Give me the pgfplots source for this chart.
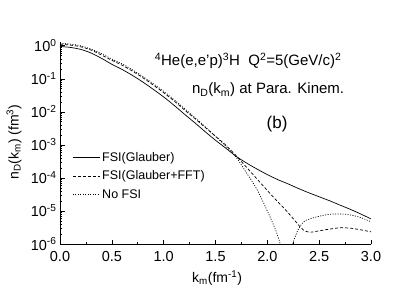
\documentclass[border=0pt]{standalone}
\usepackage{fontspec}
\setmainfont{Liberation Sans}
\usepackage{pgfplots}
\pgfplotsset{compat=1.18}
\begin{document}
\begin{tikzpicture}
\useasboundingbox (-60pt,-45pt) rectangle (349pt,244pt);
\begin{axis}[
  scale only axis, width=311pt, height=202pt,
  ymode=log, xmin=0, xmax=3, ymin=1e-6, ymax=1.3,
  axis lines=left, axis line style={-, line width=0.7pt},
  tick align=inside, major tick length=4.5pt, minor tick length=2.5pt,
  every tick/.style={line width=0.6pt, black},
  xtick={0,0.5,...,3}, minor x tick num=1,
  ytick={1e-6,1e-5,1e-4,1e-3,1e-2,1e-1,1},
  yticklabels={10\textsuperscript{-6},10\textsuperscript{-5},10\textsuperscript{-4},10\textsuperscript{-3},10\textsuperscript{-2},10\textsuperscript{-1},10\textsuperscript{0}},
  /pgf/number format/assume math mode=true,
  x tick label style={/pgf/number format/fixed, /pgf/number format/fixed zerofill, /pgf/number format/precision=1, yshift=-4pt},
  tick label style={font=\fontsize{14.5}{16}\selectfont},
  xlabel={k\textsubscript{m}(fm\textsuperscript{-1})},
  ylabel={n\textsubscript{D}(k\textsubscript{m}) (fm\textsuperscript{3})},
  label style={font=\fontsize{14}{16}\selectfont},
  xlabel style={at={(axis description cs:0.505,-0.168)}, anchor=center},
  ylabel style={at={(axis description cs:-0.148,0.505)}, anchor=center, rotate=0},
  legend style={draw=none, fill=none, font=\fontsize{12.5}{14}\selectfont,
    at={(axis description cs:0.03,0.475)}, anchor=north west, cells={anchor=west}, row sep=4pt},
  legend image code/.code={\draw[#1] (0pt,0pt) -- (27pt,0pt);},
  clip=true,
]
\addplot[black, line width=0.7pt, smooth] coordinates {
(0.0,0.955) (0.1,0.891) (0.2,0.776) (0.3,0.603) (0.4,0.417) (0.5,0.275)
(0.6,0.191) (0.7,0.126) (0.8,0.0794) (0.9,0.0479) (1.0,0.0282) (1.1,0.0158)
(1.2,0.00851) (1.3,0.00468) (1.4,0.00251) (1.5,0.00138) (1.6,7.94e-4)
(1.7,4.47e-4) (1.8,2.82e-4) (1.9,1.86e-4) (2.0,1.26e-4) (2.1,8.91e-5)
(2.2,6.61e-5) (2.3,4.79e-5) (2.4,3.55e-5) (2.5,2.69e-5) (2.6,2.04e-5)
(2.7,1.51e-5) (2.8,1.12e-5) (2.9,8.13e-6) (3.0,5.75e-6)
};
\addlegendentry{FSI(Glauber)}
\addplot[black, line width=0.7pt, smooth, dash pattern=on 3pt off 2pt] coordinates {
(0.0,1.122) (0.1,1.047) (0.2,0.933) (0.3,0.741) (0.4,0.525) (0.5,0.363)
(0.6,0.257) (0.7,0.170) (0.8,0.107) (0.9,0.0646) (1.0,0.0380) (1.1,0.0214)
(1.2,0.0115) (1.3,0.00631) (1.4,0.00339) (1.5,0.00182) (1.6,9.77e-4)
(1.7,4.68e-4) (1.8,2.09e-4) (1.9,9.33e-5) (2.0,4.17e-5) (2.1,1.91e-5)
(2.2,8.91e-6) (2.3,3.80e-6) (2.35,2.63e-6) (2.4,2.29e-6) (2.45,2.34e-6)
(2.5,2.51e-6) (2.6,2.82e-6) (2.7,3.09e-6) (2.8,3.02e-6) (2.9,2.69e-6) (3.0,2.34e-6)
};
\addlegendentry{FSI(Glauber+FFT)}
\addplot[black, line width=0.7pt, smooth, dash pattern=on 1pt off 1.5pt] coordinates {
(0.0,1.202) (0.1,1.122) (0.2,1.0) (0.3,0.794) (0.4,0.575) (0.5,0.398)
(0.6,0.282) (0.7,0.186) (0.8,0.117) (0.9,0.0708) (1.0,0.0417) (1.1,0.0234)
(1.2,0.0126) (1.3,0.00676) (1.4,0.00355) (1.5,0.00182) (1.6,9.12e-4)
(1.7,4.17e-4) (1.8,1.41e-4) (1.9,4.47e-5) (2.0,1.0e-5) (2.05,4.47e-6)
(2.1,1.78e-6) (2.15,3.98e-7) (2.18,1e-8) (2.21,2.51e-7) (2.25,1.12e-6)
(2.3,2.82e-6) (2.35,4.68e-6) (2.4,5.62e-6) (2.5,6.92e-6) (2.6,7.94e-6)
(2.7,8.13e-6) (2.8,7.59e-6) (2.9,6.31e-6) (3.0,4.68e-6)
};
\addlegendentry{No FSI}
\node[font=\fontsize{15}{17}\selectfont] at (rel axis cs:0.605,0.906) {\textsuperscript{4}He(e,e'p)\textsuperscript{3}H\ \ Q\textsuperscript{2}=5(GeV/c)\textsuperscript{2}};
\node[font=\fontsize{15}{17}\selectfont] at (rel axis cs:0.669,0.762) {n\textsubscript{D}(k\textsubscript{m}) at Para. Kinem.};
\node[font=\fontsize{17}{19}\selectfont] at (rel axis cs:0.698,0.594) {(b)};
\end{axis}
\end{tikzpicture}
\end{document}
